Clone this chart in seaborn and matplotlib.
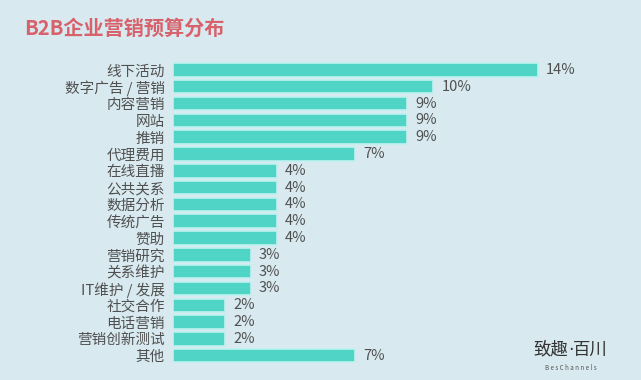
import matplotlib
matplotlib.use("Agg")
import matplotlib.pyplot as plt
import seaborn as sns
import pandas as pd

# 数据
categories = ["线下活动", "数字广告 / 营销", "内容营销", "网站", "推销", "代理费用",
              "在线直播", "公共关系", "数据分析", "传统广告", "赞助", "营销研究",
              "关系维护", "IT维护 / 发展", "社交合作", "电话营销", "营销创新测试", "其他"]
values = [14, 10, 9, 9, 9, 7, 4, 4, 4, 4, 4, 3, 3, 3, 2, 2, 2, 7]

df = pd.DataFrame({"category": categories, "value": values})

bg = "#d8eaf0"
sns.set_style("white")
plt.rcParams["font.family"] = ["Noto Sans CJK SC", "DejaVu Sans"]

fig = plt.figure(figsize=(6.41, 3.80), dpi=100, facecolor=bg)
ax = fig.add_axes([0.27, 0.042, 0.711, 0.796])
ax.set_facecolor(bg)

sns.barplot(data=df, x="value", y="category", orient="h", color="#4fd4c5",
            saturation=1, width=0.8, edgecolor="#bdf2ee", linewidth=1.2, ax=ax)

for i, v in enumerate(values):
    ax.text(v + 0.3, i, f"{v}%", va="center", ha="left", fontsize=10.5, color="#505050")

ax.set_xlim(0, 17.5)
ax.set_ylim(len(categories) - 0.5, -0.5)
ax.set_xlabel("")
ax.set_ylabel("")
ax.set_xticks([])
ax.tick_params(axis="y", length=0, pad=6, labelsize=10.5, labelcolor="#505050")
for s in ax.spines.values():
    s.set_visible(False)

fig.text(0.037, 0.927, "B2B企业营销预算分布", fontsize=14.5, fontweight="bold",
         color="#d8626c", ha="left", va="center")

# 水印
fig.text(0.886, 0.080, "致趣", fontsize=12.5, color="#333333", ha="right", va="center")
fig.text(0.890, 0.080, "·", fontsize=12.5, color="#333333", ha="center", va="center",
         family="DejaVu Sans")
fig.text(0.894, 0.080, "百川", fontsize=12.5, color="#333333", ha="left", va="center")
fig.text(0.89, 0.032, "B e s C h a n n e l s", fontsize=4.5, color="#555555",
         ha="center", va="center")

fig.savefig("out.png", dpi=100, facecolor=bg)
